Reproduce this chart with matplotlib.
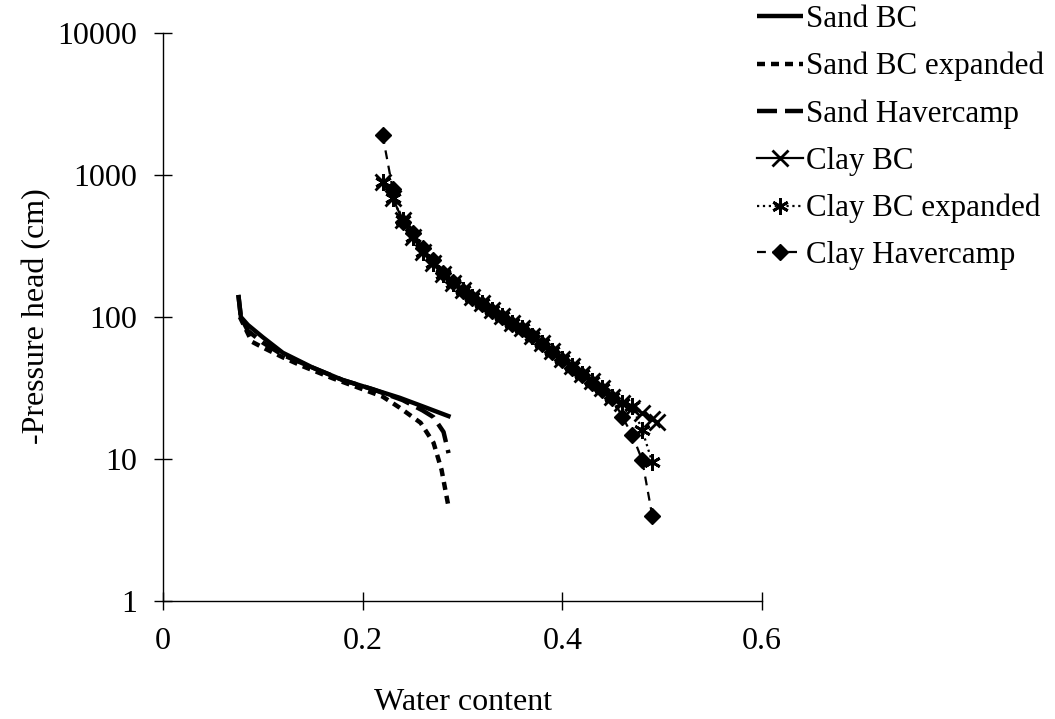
import matplotlib
matplotlib.use('Agg')
import matplotlib.pyplot as plt

plt.rcParams['font.family'] = ['Liberation Serif', 'DejaVu Serif']

# sand curves (water content, -pressure head in cm)
sand_bc_th = [0.0755, 0.078, 0.085, 0.10, 0.12, 0.15, 0.18, 0.21, 0.237, 0.26, 0.288]
sand_bc_h = [143, 100, 88, 72, 56, 44, 36, 31, 27, 23.5, 19.8]

sand_bce_th = [0.077, 0.089, 0.10, 0.12, 0.14, 0.17, 0.20, 0.22, 0.237, 0.258, 0.271, 0.279, 0.286]
sand_bce_h = [100, 67, 61, 52, 45, 37, 31, 27.5, 23, 18, 13, 8.4, 4.6]

sand_hav_th = [0.0755, 0.078, 0.085, 0.10, 0.12, 0.15, 0.18, 0.21, 0.24, 0.26, 0.271, 0.281, 0.286]
sand_hav_h = [143, 100, 80, 66, 54, 44, 36, 31, 26, 22, 19.7, 15.5, 11]

# clay curves
clay_th = [0.22, 0.23, 0.24, 0.25, 0.26, 0.27, 0.28, 0.29, 0.30, 0.31, 0.32, 0.33, 0.34, 0.35,
           0.36, 0.37, 0.38, 0.39, 0.40, 0.41, 0.42, 0.43, 0.44, 0.45, 0.46, 0.47, 0.48, 0.49]
clay_bc_h = [890, 690, 480, 363, 288, 240, 200, 174, 155, 138, 126, 112, 102, 91,
             83, 74, 66, 58, 51, 45, 40, 35.5, 31.6, 27.5, 25, 23, 21, 19]
clay_bce_h = [890, 690, 480, 363, 288, 240, 200, 174, 155, 138, 126, 112, 102, 91,
              83, 74, 66, 58, 51, 45, 40, 35.5, 31.6, 27.5, 25, 23.5, 16, 9.5]
clay_hav_h = [1910, 800, 470, 390, 305, 250, 205, 175, 152, 136, 124, 111, 100, 90,
              82, 73, 65, 57, 50, 44, 39, 34.5, 30.5, 27, 19.8, 14.8, 9.8, 4.0]

clay_bc_end_th = 0.495
clay_bc_end_h = 18.2

fs = 23

fig = plt.figure(figsize=(10.55, 7.19), dpi=100)
ax = fig.add_axes([0.1545, 0.1641, 0.5678, 0.79])

ax.plot(sand_bc_th, sand_bc_h, color='black', lw=3.2, label='Sand BC', solid_capstyle='butt')
ax.plot(sand_bce_th, sand_bce_h, color='black', lw=3.2, dashes=(1.8, 1.35), label='Sand BC expanded')
ax.plot(sand_hav_th, sand_hav_h, color='black', lw=3.2, dashes=(4.5, 1.8), label='Sand Havercamp')
ax.plot(clay_th + [clay_bc_end_th], clay_bc_h + [clay_bc_end_h], color='black', lw=1.6,
        marker='x', ms=11, mew=2, label='Clay BC')
ax.plot(clay_th, clay_bce_h, color='black', lw=1.6, ls=':', marker=(6, 2, 0), ms=12, mew=2,
        label='Clay BC expanded')
ax.plot(clay_th, clay_hav_h, color='black', lw=1.6, dashes=(4, 3), marker='D', ms=8,
        label='Clay Havercamp')

ax.set_yscale('log')
ax.set_xlim(0, 0.6)
ax.set_ylim(1, 10000)
ax.set_xticks([0, 0.2, 0.4, 0.6])
ax.set_xticklabels(['0', '0.2', '0.4', '0.6'])
ax.set_yticks([1, 10, 100, 1000, 10000])
ax.set_yticklabels(['1', '10', '100', '1000', '10000'])
ax.minorticks_off()
ax.tick_params(direction='inout', length=13, width=1, labelsize=fs, pad=12)
ax.spines['top'].set_visible(False)
ax.spines['right'].set_visible(False)
for s in ['left', 'bottom']:
    ax.spines[s].set_linewidth(1)

fig.text(463 / 1055, 0.003, 'Water content', fontsize=fs, ha='center', va='bottom')
fig.text(37 / 1055, 1 - 316 / 719, '-Pressure head (cm)', fontsize=fs, ha='center', va='center',
         rotation=90)

fig.legend(loc='upper left', bbox_to_anchor=(757 / 1055, 1 - 5 / 719), frameon=False,
           fontsize=22.3, borderpad=0, borderaxespad=0, handlelength=1.5, handletextpad=0.07,
           labelspacing=0.58)

fig.savefig('out.png', dpi=100)
